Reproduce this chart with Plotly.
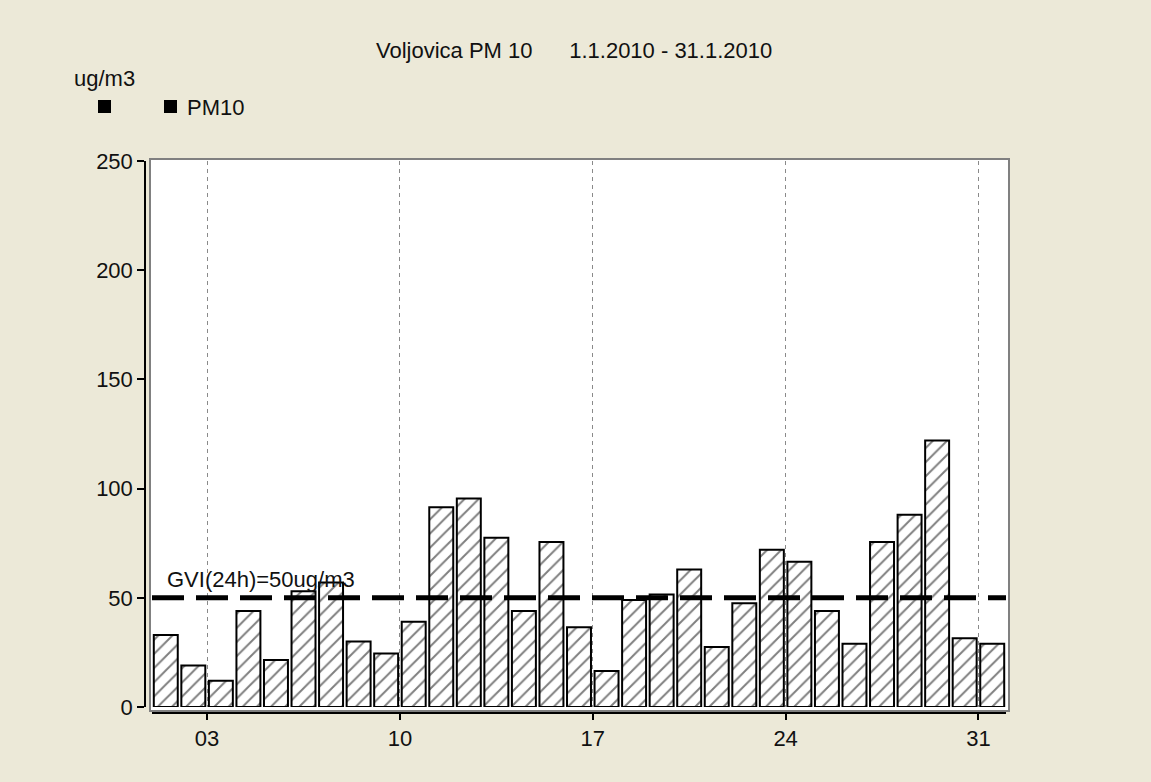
import plotly.graph_objects as go

# ---- data ----
days = [f"2010-01-{d:02d}" for d in range(1, 32)]
pm10 = [33, 19, 12, 44, 21.5, 53, 57, 30, 24.5, 39, 91.5, 95.5, 77.5, 44, 75.5,
        36.5, 16.5, 49, 51.5, 63, 27.5, 47.5, 72, 66.5, 44, 29, 75.5, 88, 122, 31.5, 29]
tick_days = ["2010-01-03", "2010-01-10", "2010-01-17", "2010-01-24", "2010-01-31"]
tick_text = ["03", "10", "17", "24", "31"]
gvi_limit = 50
gvi_label = "GVI(24h)=50ug/m3"
title_text = "Voljovica PM 10\u00a0\u00a0\u00a0\u00a0\u00a0\u00a01.1.2010 - 31.1.2010"
unit_text = "ug/m3"
series_name = "PM10"

W, H = 1151, 782
ML, MR, MT, MB = 145, 145, 161, 69
PW = W - ML - MR
PH = H - MT - MB


def px(x):
    return (x - ML) / PW


def py(y):
    return (H - MB - y) / PH


FONT = "Liberation Sans"
BG = "#ECE9D8"
TXT = "#111111"

fig = go.Figure()
fig.add_trace(go.Bar(
    x=days, y=pm10, name=series_name,
    xperiod=86400000, xperiodalignment="middle",
    marker=dict(color="white", line=dict(color="black", width=2),
                pattern=dict(shape="/", fgcolor="black", bgcolor="white",
                             size=10, solidity=0.2)),
    showlegend=False, hoverinfo="skip",
))

shapes = [
    dict(type="rect", xref="paper", yref="paper",
         x0=px(150), x1=px(1009), y0=py(711), y1=py(159),
         line=dict(color="#808080", width=2), fillcolor="white", layer="below"),
    dict(type="line", xref="paper", yref="y", x0=px(152), x1=1, y0=gvi_limit, y1=gvi_limit,
         line=dict(color="black", width=5, dash="32px,12px")),
    # legend squares
    dict(type="rect", xref="paper", yref="paper", x0=px(98), x1=px(111), y0=py(113), y1=py(100),
         fillcolor="black", line=dict(width=0)),
    dict(type="rect", xref="paper", yref="paper", x0=px(164), x1=px(177), y0=py(113), y1=py(100),
         fillcolor="black", line=dict(width=0)),
]

annotations = [
    dict(text=title_text, xref="paper", yref="paper", x=px(574), y=py(50),
         xanchor="center", yanchor="middle", showarrow=False,
         font=dict(family=FONT, size=22, color=TXT)),
    dict(text=unit_text, xref="paper", yref="paper", x=px(72), y=py(78),
         xanchor="left", yanchor="middle", showarrow=False,
         font=dict(family=FONT, size=22, color=TXT)),
    dict(text=series_name, xref="paper", yref="paper", x=px(185), y=py(107),
         xanchor="left", yanchor="middle", showarrow=False,
         font=dict(family=FONT, size=22, color=TXT)),
    dict(text=gvi_label, xref="paper", yref="y", x=px(165), y=gvi_limit,
         xanchor="left", yanchor="middle", yshift=18, showarrow=False,
         font=dict(family=FONT, size=22, color=TXT)),
]

fig.update_layout(
    width=W, height=H,
    margin=dict(l=ML, r=MR, t=MT, b=MB),
    paper_bgcolor=BG, plot_bgcolor="white",
    bargap=0.13,
    shapes=shapes, annotations=annotations,
    font=dict(family=FONT, size=22, color=TXT),
    xaxis=dict(
        type="date", range=["2010-01-01", "2010-02-01"],
        domain=[px(152), 1], anchor="free", position=0,
        tickvals=tick_days, ticktext=tick_text,
        showline=True, linecolor="black", linewidth=1.5,
        ticks="outside", ticklen=6, tickcolor="black", tickwidth=1.5,
        showgrid=True, gridcolor="#8a8a8a", gridwidth=1, griddash="4px,4px",
        zeroline=False,
        tickfont=dict(family=FONT, size=22, color=TXT),
    ),
    yaxis=dict(
        range=[0, 250], domain=[py(707), 1], anchor="free", position=0,
        tickvals=[0, 50, 100, 150, 200, 250],
        showline=True, linecolor="black", linewidth=1.5,
        ticks="outside", ticklen=7, tickcolor="black", tickwidth=1.5,
        showgrid=False, zeroline=False,
        tickfont=dict(family=FONT, size=22, color=TXT),
    ),
)

fig.write_html("out.html", config={"displayModeBar": False},
               post_script="document.body.style.margin='0';document.body.style.overflow='hidden';")
